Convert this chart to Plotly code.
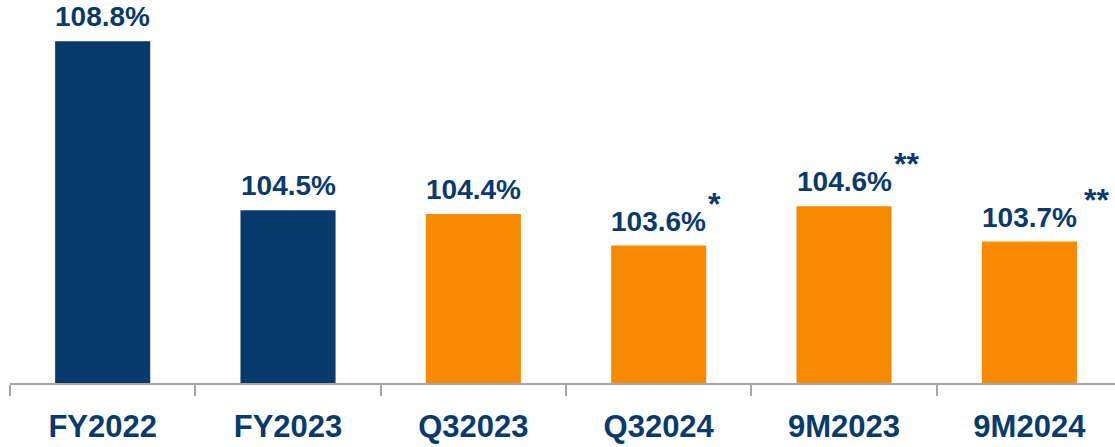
import plotly.graph_objects as go

categories = ["FY2022", "FY2023", "Q32023", "Q32024", "9M2023", "9M2024"]
values = [108.8, 104.5, 104.4, 103.6, 104.6, 103.7]
labels = ["108.8%", "104.5%", "104.4%", "103.6%", "104.6%", "103.7%"]
footnote_marks = ["", "", "", "*", "**", "**"]
groups = ["year", "year", "period", "period", "period", "period"]

NAVY = "#083A6B"
ORANGE = "#F88A00"
color_map = {"year": NAVY, "period": ORANGE}

fig = go.Figure()
fig.add_trace(go.Bar(
    x=categories,
    y=values,
    marker=dict(color=[color_map[g] for g in groups], line=dict(width=0)),
    width=0.513,
    hoverinfo="skip",
))

for c, v, t, m in zip(categories, values, labels, footnote_marks):
    fig.add_annotation(
        x=c, y=v, text=t, showarrow=False, xanchor="center", yanchor="bottom",
        yshift=7,
        font=dict(family="Liberation Sans", size=28, color=NAVY, weight="bold"),
    )
    if m:
        fig.add_annotation(
            x=c, y=v, text=m, showarrow=False, xanchor="left", yanchor="bottom",
            xshift=47 if m == "*" else (48 if c == "9M2023" else 53), yshift=22,
            font=dict(family="Liberation Sans", size=32, color=NAVY, weight="bold"),
        )

fig.update_layout(
    width=1115, height=447,
    margin=dict(l=10, r=0, t=0, b=64),
    paper_bgcolor="white", plot_bgcolor="white",
    showlegend=False,
    xaxis=dict(
        type="category",
        range=[-0.5, 5.462],
        tickson="boundaries",
        ticks="outside", ticklen=11, tickwidth=1.5, tickcolor="#A6A6A6",
        showline=True, linecolor="#A6A6A6", linewidth=1.5,
        showgrid=False, zeroline=False,
        tickfont=dict(family="Liberation Sans", size=31, color=NAVY, weight="bold"),
        ticklabelstandoff=15,
        automargin=False,
        fixedrange=True,
    ),
    yaxis=dict(
        range=[100.1, 109.85],
        visible=False, showgrid=False, zeroline=False,
        automargin=False,
        fixedrange=True,
    ),
)

fig.write_html(
    "out.html",
    config={"displayModeBar": False},
    post_script="document.body.style.margin='0';document.body.style.overflow='hidden';",
)
